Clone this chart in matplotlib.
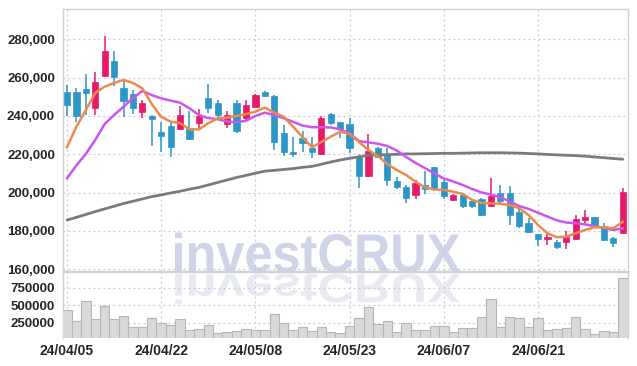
import matplotlib
matplotlib.use('Agg')
import matplotlib.pyplot as plt
import matplotlib.ticker as mticker
from matplotlib.textpath import TextPath
from matplotlib.patches import PathPatch
from matplotlib.font_manager import FontProperties
from matplotlib.transforms import Affine2D

# daily candles, 24/04/05 .. 24/07/04
opens = [252500, 252600, 253900, 244300, 261000, 268700, 254600, 251500, 242200, 240200,
         231600, 234800, 233200, 233900, 236500, 249400, 246800, 235600, 246900, 239100,
         244800, 252500, 250400, 231300, 221300, 228300, 223300, 220100, 241000, 236700,
         235800, 218400, 208700, 223100, 219900, 206100, 202800, 198900, 204000, 213500,
         205700, 196100, 198800, 195500, 196700, 193000, 200000, 200000, 190000, 184300,
         178400, 175600, 174400, 174400, 175800, 185700, 187400, 182600, 176500, 179100]
highs = [256000, 254600, 261900, 263100, 281500, 273900, 258800, 253500, 248300, 240500,
         236600, 236800, 245300, 242700, 243500, 256500, 248300, 242700, 248100, 248300,
         251500, 253200, 250900, 235300, 229200, 231900, 228800, 240000, 241700, 236800,
         238800, 219600, 230400, 224000, 223400, 208200, 204000, 206600, 211100, 213600,
         206600, 199300, 199100, 196500, 197000, 207500, 204000, 203500, 193000, 186600,
         178400, 179600, 175300, 180000, 188300, 190900, 187500, 184300, 176600, 202300]
lows = [240000, 237000, 240500, 240500, 260500, 255600, 239500, 241000, 238900, 224200,
        221300, 218700, 232500, 227700, 233000, 241400, 239600, 233600, 231000, 237900,
        244000, 249900, 222200, 219100, 218400, 221400, 217900, 219600, 235300, 228700,
        220800, 202300, 207900, 218000, 203500, 201700, 194400, 196900, 199500, 201100,
        196500, 195400, 192200, 191800, 187800, 192600, 194700, 183100, 181500, 179100,
        172100, 172700, 170400, 170800, 175300, 184300, 181500, 175000, 171600, 178500]
closes = [245500, 240000, 251800, 257900, 273900, 260500, 248000, 244400, 246800, 238300,
          229500, 224000, 240500, 228000, 240100, 244300, 240500, 240500, 232200, 245700,
          250900, 250600, 226600, 221300, 220400, 225900, 221300, 238800, 236500, 233200,
          223100, 208700, 221900, 218400, 206600, 203100, 197300, 205200, 201700, 202400,
          198400, 198900, 193000, 193000, 188500, 198000, 195600, 188300, 182600, 179600,
          175600, 177000, 171800, 177000, 186200, 187400, 182600, 175300, 173900, 200500]
volumes = [431000, 274000, 560000, 299000, 489000, 299000, 346000, 193000, 184000, 313000,
           250000, 217000, 299000, 146000, 156000, 213000, 99000, 117000, 131000, 156000,
           146000, 146000, 374000, 250000, 146000, 189000, 131000, 184000, 117000, 99000,
           203000, 313000, 470000, 231000, 274000, 117000, 250000, 146000, 141000, 199000,
           199000, 117000, 170000, 170000, 327000, 584000, 184000, 327000, 313000, 184000,
           313000, 146000, 160000, 170000, 327000, 156000, 89000, 131000, 117000, 884000]

ma5 = [223700, 234400, 243100, 252000, 255300, 257200, 258800, 257200, 254400, 246200,
       239500, 237000, 236300, 233000, 233000, 236200, 238800, 239100, 240000, 241000,
       242200, 244400, 241700, 239600, 234400, 229000, 223700, 226400, 229200, 231800,
       230600, 226400, 222200, 219100, 214900, 211800, 209200, 205700, 202800, 201700,
       201400, 200500, 199300, 196200, 194600, 194400, 194200, 193500, 191800, 188300,
       183100, 178800, 176700, 177000, 178800, 180500, 181900, 181900, 181400, 184800]
ma10 = [207500, 214200, 220200, 227500, 235800, 240500, 244800, 249400, 253000, 250900,
        249200, 248000, 246900, 244000, 240500, 238900, 238300, 237100, 236700, 237500,
        240000, 241700, 240500, 238800, 236900, 235000, 234100, 234100, 234000, 233000,
        230900, 226900, 226200, 225500, 224300, 222000, 218600, 215500, 212800, 210000,
        207400, 205800, 204000, 201900, 200100, 199000, 197600, 195400, 193000, 191500,
        189500, 187500, 185500, 184400, 184000, 183400, 182500, 181500, 180500, 181400]
ma_long = [185700, 187100, 188600, 190100, 191500, 192900, 194300, 195500, 196700, 197900,
           198800, 199800, 200700, 201800, 202700, 204000, 205300, 206600, 207900, 209000,
           210100, 211200, 211600, 212100, 212500, 213200, 213700, 214800, 216000, 217000,
           217900, 218700, 219500, 219700, 219800, 220000, 220200, 220200, 220300, 220400,
           220500, 220500, 220600, 220700, 220800, 220800, 220800, 220700, 220600, 220400,
           220200, 219900, 219700, 219500, 219300, 219000, 218600, 218200, 217800, 217400]

date_pos = [0, 10, 20, 30, 40, 50]
date_labels = ['24/04/05', '24/04/22', '24/05/08', '24/05/23', '24/06/07', '24/06/21']
price_ticks = [160000, 180000, 200000, 220000, 240000, 260000, 280000]
vol_ticks = [250000, 500000, 750000]

UP = '#e8196b'
DOWN = '#2e95c7'
GRID = '#c5c9dd'
SPINE = '#d0d0d0'
TXT = '#262626'
tick_font = ['Liberation Sans', 'DejaVu Sans']

fig = plt.figure(figsize=(6.37, 3.66), dpi=100)
ax1 = fig.add_axes([0.0994, 0.2582, 0.886, 0.7164])
ax2 = fig.add_axes([0.0994, 0.0765, 0.886, 0.1803])

x = list(range(len(closes)))
colors = [UP if c >= o else DOWN for o, c in zip(opens, closes)]
bottoms = [min(o, c) for o, c in zip(opens, closes)]
heights = [max(abs(c - o), 400) for o, c in zip(opens, closes)]

ax1.vlines(x, lows, highs, colors=colors, linewidth=1.1, zorder=3)
ax1.bar(x, heights, bottom=bottoms, width=0.66, color=colors, edgecolor=colors,
        linewidth=0.5, zorder=4)
ax1.plot(x, ma_long, color='#7b7b7b', linewidth=2.0, zorder=5, solid_capstyle='round')
ax1.plot(x, ma10, color='#cc55ee', linewidth=1.8, zorder=5)
ax1.plot(x, ma5, color='#ee8a4c', linewidth=1.8, zorder=6)

ax2.bar(x, volumes, width=1.0, color='#d9d9d9', edgecolor='#b5b5b5', linewidth=0.8, zorder=3)

for ax in (ax1, ax2):
    ax.set_xlim(-0.39, 59.52)
    ax.set_xticks(date_pos)
    ax.grid(True, color=GRID, linestyle=(0, (1.5, 2.5)), linewidth=0.9, zorder=0)
    ax.tick_params(length=0)
    for s in ax.spines.values():
        s.set_color(SPINE)
        s.set_linewidth(1.0)

ax1.set_ylim(158840, 295650)
ax1.set_yticks(price_ticks)
ax1.yaxis.set_major_formatter(mticker.FuncFormatter(lambda v, p: f'{int(v):,}'))
ax1.set_xticklabels([])
ax2.set_ylim(31400, 974300)
ax2.set_yticks(vol_ticks)
ax2.set_yticklabels([str(v) for v in vol_ticks])
ax2.set_xticklabels(date_labels)
ax2.spines['bottom'].set_visible(False)

for lab in ax1.get_yticklabels() + ax2.get_yticklabels():
    lab.set_family(tick_font)
    lab.set_fontsize(9.5)
    lab.set_fontweight('bold')
    lab.set_color(TXT)
for lab in ax2.get_xticklabels():
    lab.set_family(tick_font)
    lab.set_fontsize(10)
    lab.set_fontweight('bold')
    lab.set_color(TXT)
ax1.tick_params(axis='y', pad=6)
ax2.tick_params(axis='y', pad=6)
ax2.tick_params(axis='x', pad=4)

# watermark and its reflection
tp = TextPath((0, 0), 'investCRUX', size=1, prop=FontProperties(family='Liberation Sans', weight='bold'))
ext = tp.get_extents()
sx = 285 / ext.width
sy = 39 / 0.716
x0, base = 175, 366 - 272
wm = Affine2D().translate(-ext.x0, 0).scale(sx / 100, sy / 100).translate(x0 / 100, base / 100) + fig.dpi_scale_trans
wr = Affine2D().translate(-ext.x0, 0).scale(sx / 100, -sy * 0.75 / 100).translate(x0 / 100, (base - 2) / 100) + fig.dpi_scale_trans
ax1.add_patch(PathPatch(tp, transform=wm, facecolor='#d0d4e8', edgecolor='none', zorder=1, clip_on=False))
ax2.add_patch(PathPatch(tp, transform=wr, facecolor='#e8eaf2', edgecolor='none', zorder=1, clip_on=True))

fig.savefig('out.png', dpi=100, facecolor='white')
